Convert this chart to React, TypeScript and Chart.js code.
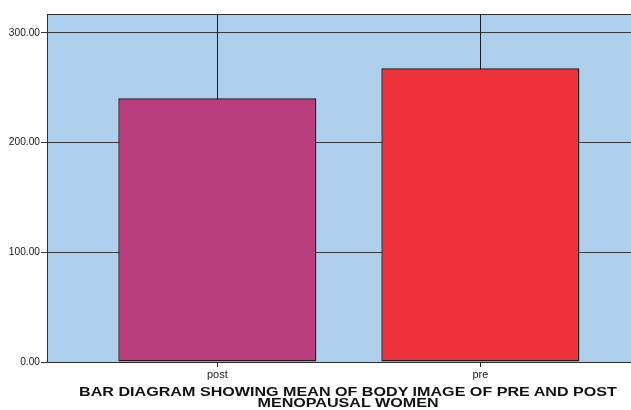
import React, { useEffect, useRef } from "react";
import { Chart, registerables } from "chart.js";

Chart.register(...registerables);

const categories = ["post", "pre"];
const meanValues = [240.4, 267.8];
const errorLow = [150, 190];
const errorHigh = [335, 350];
const yTickValues = [0, 100, 200, 300];
const barColors = ["#BA3E7D", "#EF3239"];
const titleLines = [
  "BAR DIAGRAM SHOWING MEAN OF BODY IMAGE OF PRE AND POST",
  "MENOPAUSAL WOMEN",
];

export default function App() {
  const ref = useRef<HTMLCanvasElement>(null);

  useEffect(() => {
    if (!ref.current) return;

    const plotBg = {
      id: "plotBg",
      beforeDraw(chart: any) {
        const { ctx, chartArea: a } = chart;
        ctx.save();
        ctx.fillStyle = "#ADCFEC";
        ctx.fillRect(a.left, a.top, a.right - a.left, a.bottom - a.top);
        ctx.restore();
      },
    };

    const errorBars = {
      id: "errorBars",
      beforeDatasetsDraw(chart: any) {
        const { ctx, chartArea: a } = chart;
        const meta = chart.getDatasetMeta(0);
        const yScale = chart.scales.y;
        ctx.save();
        ctx.beginPath();
        ctx.rect(a.left, a.top, a.right - a.left, a.bottom - a.top);
        ctx.clip();
        ctx.strokeStyle = "#1e1e1e";
        ctx.lineWidth = 1;
        meta.data.forEach((bar: any, i: number) => {
          const x = Math.round(bar.x) + 0.5;
          ctx.beginPath();
          ctx.moveTo(x, yScale.getPixelForValue(errorLow[i]));
          ctx.lineTo(x, yScale.getPixelForValue(errorHigh[i]));
          ctx.stroke();
        });
        ctx.restore();
      },
    };

    const frame = {
      id: "frame",
      afterDraw(chart: any) {
        const { ctx, chartArea: a } = chart;
        const xScale = chart.scales.x;
        ctx.save();
        ctx.strokeStyle = "#2e2e2e";
        ctx.lineWidth = 1;
        ctx.strokeRect(
          Math.round(a.left) + 0.5,
          Math.round(a.top) + 0.5,
          Math.round(a.right - a.left),
          Math.round(a.bottom - a.top)
        );
        // category tick marks below the plot
        ctx.strokeStyle = "#222";
        xScale.ticks.forEach((t: any) => {
          const x = Math.round(xScale.getPixelForValue(t.value)) + 0.5;
          ctx.beginPath();
          ctx.moveTo(x, Math.round(a.bottom));
          ctx.lineTo(x, Math.round(a.bottom) + 5);
          ctx.stroke();
        });
        ctx.restore();
      },
    };

    const chart = new Chart(ref.current, {
      type: "bar",
      data: {
        datasets: [
          {
            data: meanValues.map((v, i) => ({ x: i, y: v })) as any,
            backgroundColor: barColors,
            borderColor: "#1c1c1c",
            borderWidth: 1.4,
            borderSkipped: false,
            barPercentage: 0.753,
            categoryPercentage: 1,
          },
        ],
      },
      options: {
        animation: false,
        responsive: true,
        maintainAspectRatio: false,
        layout: { padding: { top: 14, right: 11, left: 0, bottom: 0 } },
        plugins: {
          legend: { display: false },
          tooltip: { enabled: false },
          title: { display: false },
        },
        scales: {
          x: {
            type: "linear",
            min: -0.6475,
            max: 1.641,
            offset: false,
            afterBuildTicks: (s: any) => {
              s.ticks = categories.map((_, i) => ({ value: i }));
            },
            ticks: {
              callback: (_v: any, i: number) => categories[i],
              font: { family: "'Liberation Sans', Arial, sans-serif", size: 11 },
              color: "#222",
              padding: 2,
              autoSkip: false,
              maxRotation: 0,
            },
            grid: {
              offset: false,
              drawOnChartArea: false,
              drawTicks: true,
              tickLength: 4,
              color: "rgba(0,0,0,0)",
            },
            border: { display: false },
            afterFit: (s: any) => {
              s.height = 48;
            },
          },
          y: {
            min: 0,
            max: 317.3,
            afterBuildTicks: (s: any) => {
              s.ticks = yTickValues.map((v) => ({ value: v }));
            },
            ticks: {
              callback: (v: any) => Number(v).toFixed(2),
              font: { family: "'Liberation Sans', Arial, sans-serif", size: 10.2 },
              color: "#1a1a1a",
              padding: 1,
            },
            grid: { color: "#3a3a3a", tickLength: 6, lineWidth: 1 },
            border: { display: false },
            afterFit: (s: any) => {
              s.width = 47;
            },
          },
        },
      } as any,
      plugins: [plotBg, errorBars, frame],
    });

    return () => chart.destroy();
  }, []);

  return (
    <div
      style={{
        position: "absolute",
        left: 0,
        top: 0,
        width: 631,
        height: 410,
        overflow: "hidden",
        background: "#fff",
      }}
    >
      <div style={{ position: "absolute", left: 0, top: 0, width: 660, height: 410 }}>
        <canvas ref={ref} />
      </div>
      <div
        style={{
          position: "absolute",
          left: 0,
          top: 387,
          width: 696,
          textAlign: "center",
          fontFamily: "'Liberation Sans', Arial, sans-serif",
          fontWeight: "bold",
          fontSize: 12.4,
          lineHeight: "10.5px",
          color: "#111",
          transform: "scaleX(1.3)",
          transformOrigin: "348px 0",
          whiteSpace: "nowrap",
        }}
      >
        {titleLines.map((t) => (
          <div key={t}>{t}</div>
        ))}
      </div>
    </div>
  );
}
